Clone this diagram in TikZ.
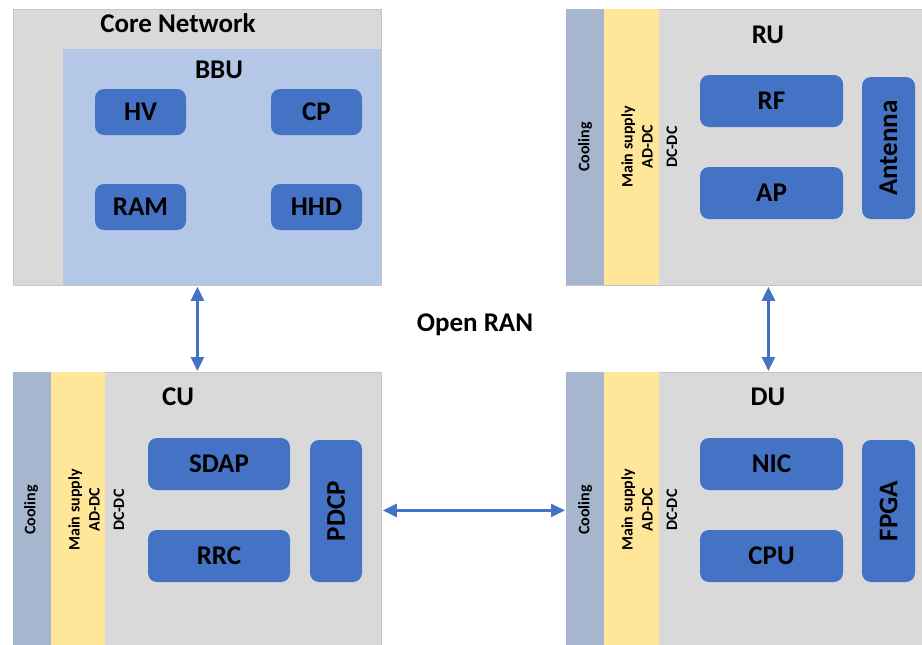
\documentclass[tikz,border=0pt]{standalone}
\usepackage{fontspec}
\setmainfont{Carlito}
\usetikzlibrary{arrows.meta}
\definecolor{unitgrey}{HTML}{D9D9D9}
\definecolor{unitedge}{HTML}{C6C6C6}
\definecolor{bbublue}{HTML}{B4C7E7}
\definecolor{partblue}{HTML}{4472C4}
\definecolor{coolblue}{HTML}{A6B6CF}
\definecolor{supplyyellow}{HTML}{FFE699}
\tikzset{
  unit/.style={fill=unitgrey, draw=unitedge, line width=0.8pt, inner sep=0pt},
  bbubox/.style={fill=bbublue, draw=none, inner sep=0pt},
  coolstrip/.style={fill=coolblue, draw=none},
  supplystrip/.style={fill=supplyyellow, draw=none},
  part/.style={fill=partblue, draw=none, rounded corners=9pt, inner sep=0pt,
    font=\fontsize{27}{31}\selectfont\bfseries, text=black},
  title/.style={font=\fontsize{27}{31}\selectfont\bfseries, text=black},
  sidelabel/.style={rotate=90, font=\fontsize{16}{20}\selectfont\bfseries, align=center, inner sep=0pt},
  link/.style={draw=partblue, line width=2.6pt,
    {Triangle[length=14pt,width=13pt]}-{Triangle[length=14pt,width=13pt]}, shorten <=1pt, shorten >=1pt}
}
\begin{document}
\begin{tikzpicture}[x=1pt, y=-1pt]
\useasboundingbox (0,0) rectangle (922,645);

% ---------- Core network with BBU ----------
\node[unit, anchor=north west, minimum width=368pt, minimum height=276pt] (core) at (13,9) {};
\node[bbubox, anchor=north west, minimum width=318pt, minimum height=236pt] (bbu) at (63,49) {};
\node[title] (coretitle) at (178,23) {Core Network};
\node[title] (bbutitle) at (219,70) {BBU};
\node[part, minimum width=91pt, minimum height=46pt] (hv)  at (140.5,112) {HV};
\node[part, minimum width=91pt, minimum height=46pt] (cp)  at (316.5,112) {CP};
\node[part, minimum width=91pt, minimum height=46pt] (ram) at (140.5,207) {RAM};
\node[part, minimum width=91pt, minimum height=46pt] (hhd) at (316.5,207) {HHD};

% ---------- RU ----------
\node[unit, anchor=north west, minimum width=404pt, minimum height=276pt] (ru) at (566,9) {};
\fill[coolstrip] (566,9) rectangle (604,285);
\fill[supplystrip] (604,9) rectangle (659,285);
\node[title] (rutitle) at (768,35) {RU};
\node[sidelabel] (rucool) at (585,147) {Cooling};
\node[sidelabel] (rusupply) at (637,147) {Main supply\\AD-DC};
\node[sidelabel] (rudcdc) at (672,147) {DC-DC};
\node[part, minimum width=143pt, minimum height=52pt] (rf) at (771.5,101) {RF};
\node[part, minimum width=143pt, minimum height=52pt] (ap) at (771.5,193) {AP};
\node[part, rotate=90, minimum width=142pt, minimum height=53pt] (antenna) at (888.5,148) {Antenna};

% ---------- CU ----------
\node[unit, anchor=north west, minimum width=368pt, minimum height=276pt] (cu) at (13,372) {};
\fill[coolstrip] (13,372) rectangle (51,650);
\fill[supplystrip] (51,372) rectangle (105,650);
\node[title] (cutitle) at (178,397) {CU};
\node[sidelabel] (cucool) at (31,510) {Cooling};
\node[sidelabel] (cusupply) at (84,510) {Main supply\\AD-DC};
\node[sidelabel] (cudcdc) at (119,510) {DC-DC};
\node[part, minimum width=142pt, minimum height=52pt] (sdap) at (219,464) {SDAP};
\node[part, minimum width=142pt, minimum height=52pt] (rrc) at (219,556) {RRC};
\node[part, rotate=90, minimum width=142pt, minimum height=52pt] (pdcp) at (336,511) {PDCP};

% ---------- DU ----------
\node[unit, anchor=north west, minimum width=404pt, minimum height=276pt] (du) at (566,372) {};
\fill[coolstrip] (566,372) rectangle (604,650);
\fill[supplystrip] (604,372) rectangle (659,650);
\node[title] (dutitle) at (768,397) {DU};
\node[sidelabel] (ducool) at (585,510) {Cooling};
\node[sidelabel] (dusupply) at (637,510) {Main supply\\AD-DC};
\node[sidelabel] (dudcdc) at (672,510) {DC-DC};
\node[part, minimum width=143pt, minimum height=52pt] (nic) at (771.5,464) {NIC};
\node[part, minimum width=143pt, minimum height=52pt] (cpu) at (771.5,556) {CPU};
\node[part, rotate=90, minimum width=142pt, minimum height=53pt] (fpga) at (888.5,511) {FPGA};

% ---------- centre label and links ----------
\node[title] (oran) at (475,325) {Open RAN};
\draw[link] (core.south) -- (cu.north);
\draw[link] (ru.south) -- (du.north);
\draw[link] (cu.east) -- (du.west);
\end{tikzpicture}
\end{document}
